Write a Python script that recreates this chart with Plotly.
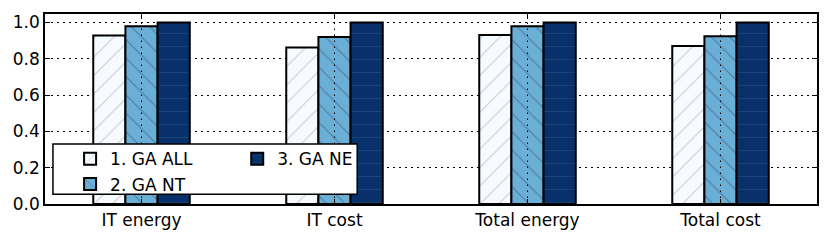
import plotly.graph_objects as go

categories = ["IT energy", "IT cost", "Total energy", "Total cost"]
series_names = ["1. GA ALL", "2. GA NT", "3. GA NE"]
ga_all = [0.929, 0.862, 0.931, 0.870]
ga_nt = [0.980, 0.920, 0.980, 0.924]
ga_ne = [1.0, 1.0, 1.0, 1.0]
y_ticks = [0.0, 0.2, 0.4, 0.6, 0.8, 1.0]

styles = [
    dict(color="#f7fbff", shape="/", fg="#9a9a9a", legend="legend"),
    dict(color="#6baed6", shape="\\", fg="#2a4a6a", legend="legend"),
    dict(color="#08306b", shape="-", fg="#2f5685", legend="legend2"),
]

fig = go.Figure()
for name, vals, st in zip(series_names, [ga_all, ga_nt, ga_ne], styles):
    fig.add_trace(go.Bar(
        x=categories, y=vals, name=name, legend=st["legend"],
        marker=dict(color=st["color"], line=dict(color="black", width=2),
                    pattern=dict(shape=st["shape"], fgcolor=st["fg"], size=13,
                                 solidity=0.08, fillmode="overlay")),
    ))

dash = "1.5px,4.5px"
shapes = []
# vertical gridlines drawn above bars (as in reference)
for c in categories:
    shapes.append(dict(type="line", xref="x", yref="paper", x0=c, x1=c, y0=0, y1=1,
                       line=dict(color="black", width=1, dash=dash), layer="above"))
# legend frame
shapes.append(dict(type="rect", xref="paper", yref="paper", x0=0.0103, x1=0.4044,
                   y0=0.0518, y1=0.316, fillcolor="white",
                   line=dict(color="black", width=1.5), layer="above"))

font = dict(family="DejaVu Sans", size=17, color="black")
leg_common = dict(orientation="v", xanchor="left", yanchor="top", bgcolor="rgba(0,0,0,0)",
                  borderwidth=0, font=font, tracegroupgap=0)
fig.update_layout(
    width=831, height=242,
    margin=dict(l=45, r=12, t=13, b=36),
    barmode="group", bargap=0.5, bargroupgap=0,
    plot_bgcolor="white", paper_bgcolor="white",
    font=font,
    legend=dict(x=0.0325, y=0.33, **leg_common),
    legend2=dict(x=0.249, y=0.33, **leg_common),
    showlegend=True,
    shapes=shapes,
)
fig.update_xaxes(
    range=[-0.5, 3.5], showline=True, linecolor="black", linewidth=1.5, mirror="allticks",
    ticks="inside", ticklen=5, tickcolor="black", showgrid=False,
)
fig.update_yaxes(
    range=[0, 1.047], tickvals=y_ticks, ticktext=[f"{v:.1f}" for v in y_ticks],
    showline=True, linecolor="black", linewidth=1.5, mirror="allticks",
    ticks="inside", ticklen=5, tickcolor="black",
    showgrid=True, gridcolor="black", griddash=dash, gridwidth=1, zeroline=False,
)
fig.write_html("out.html", config={"displayModeBar": False},
               post_script="document.body.style.margin='0';document.body.style.overflow='hidden';")
